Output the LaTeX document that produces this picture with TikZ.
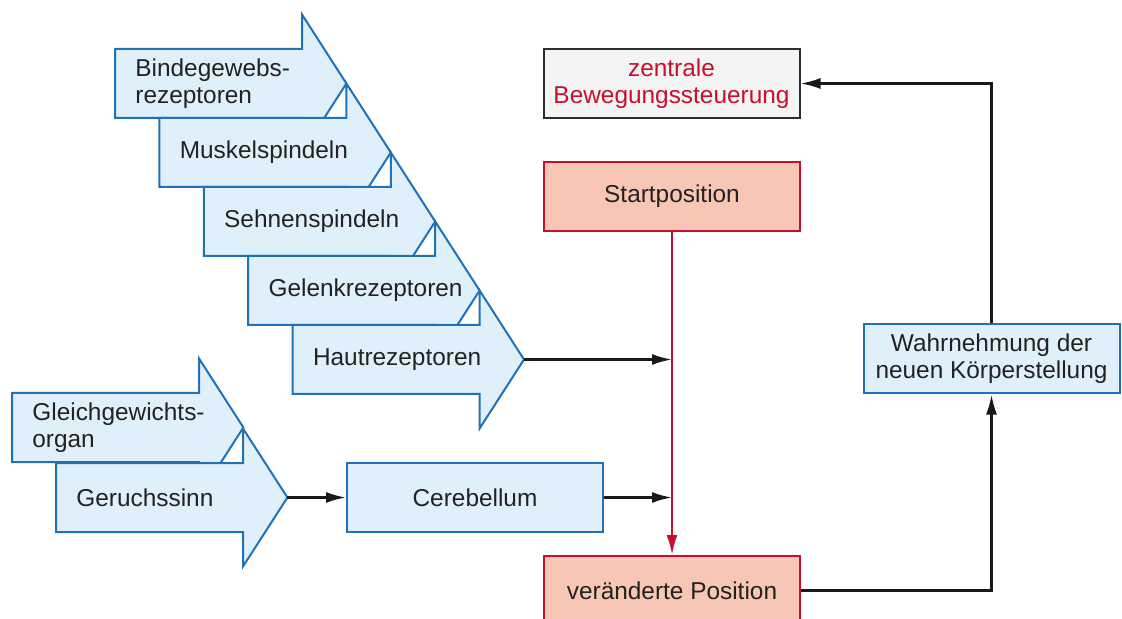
\documentclass[tikz,border=0pt]{standalone}
\usepackage{fontspec}
\setmainfont{Liberation Sans}
\usetikzlibrary{positioning,arrows.meta,calc}

\definecolor{hellblau}{HTML}{E0F0FB}
\definecolor{randblau}{HTML}{1F72B8}
\definecolor{lachs}{HTML}{F8C6B4}
\definecolor{signalrot}{HTML}{C8102E}
\definecolor{hellgrau}{HTML}{F4F4F4}
\definecolor{dunkel}{HTML}{222222}

% sense arrow: name, left x, top y, notch x, text
\newcommand{\reizpfeil}[5]{%
  \draw[pfeilform] (#2,#3) -- (#4,#3) -- (#4,#3-34.5) -- (#4+44.4,#3+34.5)
    -- (#4,#3+103.5) -- (#4,#3+69) -- (#2,#3+69) -- cycle;
  \node[txt, anchor=west] (#1) at (#2+20,#3+34.5) {#5};
  \coordinate (#1-tip) at (#4+44.4,#3+34.5);
}

\begin{document}
\begin{tikzpicture}[
    x=0.5pt, y=-0.5pt,
    txt/.style={font=\fontsize{12.2}{13.6}\selectfont, text=dunkel, align=left, inner sep=0pt},
    pfeilform/.style={draw=randblau, fill=hellblau, line width=1pt, line join=miter},
    box/.style={rectangle, draw=#1, line width=1pt, minimum width=128pt, minimum height=34.5pt, align=center, font=\fontsize{12.2}{13.6}\selectfont, text=dunkel, inner sep=2pt},
    conn/.style={-{Latex[length=10pt,width=5.5pt]}, line width=1.2pt, draw=black!90},
    redconn/.style={-{Latex[length=10pt,width=5.5pt]}, line width=1.2pt, draw=signalrot}
]
\useasboundingbox (0,0) rectangle (1122,619);
\clip (0,0) rectangle (1122,619);

% Receptor arrows (drawn back to front)
\reizpfeil{binde}{115}{49}{302}{Bindegewebs-\\rezeptoren}
\reizpfeil{muskel}{159.4}{118}{346.4}{Muskelspindeln}
\reizpfeil{sehnen}{203.8}{187}{390.8}{Sehnenspindeln}
\reizpfeil{gelenk}{248.2}{256}{435.2}{Gelenkrezeptoren}
\reizpfeil{haut}{292.6}{325}{479.6}{Hautrezeptoren}

\reizpfeil{gleich}{12}{393}{199}{Gleichgewichts-\\organ}
\reizpfeil{geruch}{56}{463}{243}{Geruchssinn}

% Boxes
\node[box=dunkel!95, fill=hellgrau, text=signalrot] (zentral) at (671.5,83.5) {zentrale\\Bewegungssteuerung};
\node[box=signalrot, fill=lachs] (start) at (672,196.5) {Startposition};
\node[box=signalrot, fill=lachs] (veraend) at (672,590.5) {veränderte Position};
\node[box=randblau, fill=hellblau] (cereb) at (475,497.5) {Cerebellum};
\node[box=randblau, fill=hellblau] (wahrn) at (991.5,359) {Wahrnehmung der\\neuen Körperstellung};

% Arrows
\draw[redconn] (start.south) -- (veraend.north);
\draw[conn] (haut-tip) -- (haut-tip -| start);
\draw[conn] (geruch-tip) -- (cereb.west);
\draw[conn] (cereb.east) -- (cereb.east -| start);
\draw[conn] (veraend.east) -| (wahrn.south);
\draw[conn] (wahrn.north) |- (zentral.east);

\end{tikzpicture}
\end{document}
